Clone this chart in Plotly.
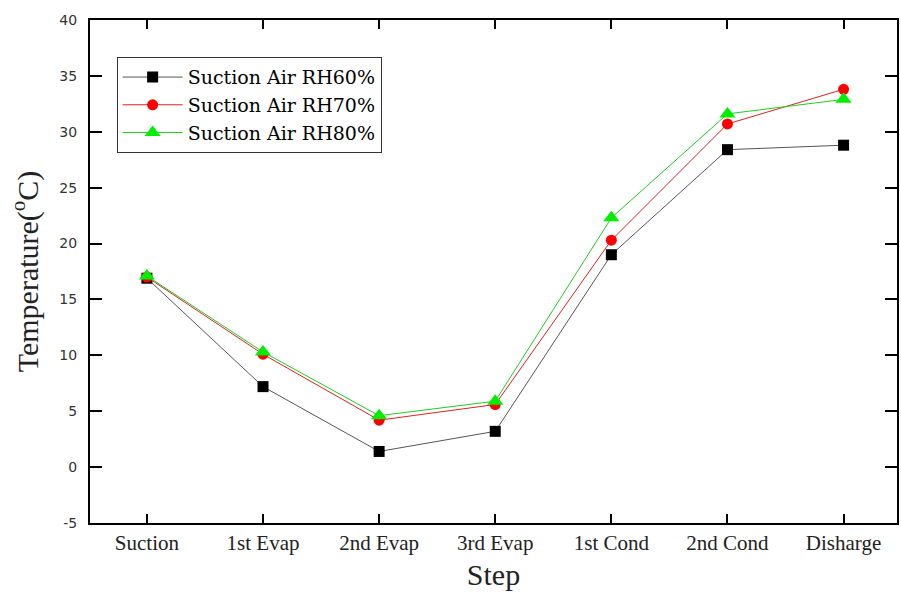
import plotly.graph_objects as go

# Process steps along the refrigeration cycle
steps = ["Suction", "1st Evap", "2nd Evap", "3rd Evap", "1st Cond", "2nd Cond", "Disharge"]

# Measured temperatures (°C) for each suction-air humidity
rh60 = [16.9, 7.2, 1.4, 3.2, 19.0, 28.4, 28.8]
rh70 = [17.0, 10.1, 4.2, 5.6, 20.3, 30.7, 33.8]
rh80 = [17.1, 10.3, 4.6, 5.9, 22.3, 31.6, 32.9]

y_ticks = [-5, 0, 5, 10, 15, 20, 25, 30, 35, 40]
y_tick_text = ["-5", "0", "5", "10", "15", "20", "25", "30", "35", "40"]

serif = "Liberation Serif, Times New Roman, serif"
wide_serif = "DejaVu Serif, serif"
sans = "DejaVu Sans, sans-serif"

x_idx = list(range(len(steps)))

fig = go.Figure()
series = [
    ("Suction Air RH60%", rh60, "black", "#555555", "square", 11),
    ("Suction Air RH70%", rh70, "#ff0000", "#dd2222", "circle", 11),
    ("Suction Air RH80%", rh80, "#00ee00", "#22cc22", "triangle-up", 14),
]
for name, vals, mcol, lcol, sym, size in series:
    fig.add_trace(go.Scatter(
        x=x_idx, y=vals, name=name, mode="lines+markers",
        line=dict(color=lcol, width=1),
        marker=dict(symbol=sym, size=size, color=mcol, line=dict(width=0)),
    ))

axis_common = dict(
    showline=True, linecolor="black", linewidth=2, mirror="allticks",
    ticks="inside", tickcolor="black", tickwidth=2,
    showgrid=False, zeroline=False,
)

fig.update_layout(
    width=901, height=595,
    margin=dict(l=90, r=2, t=20, b=72),
    plot_bgcolor="white", paper_bgcolor="white",
    showlegend=True,
    legend=dict(
        x=0.033, y=0.926, xanchor="left", yanchor="top",
        bgcolor="white", bordercolor="#333333", borderwidth=1,
        font=dict(family=wide_serif, size=19, color="black"),
        tracegroupgap=0, itemwidth=60,
    ),
    xaxis=dict(
        **axis_common, ticklen=9,
        tickmode="array", tickvals=x_idx, ticktext=steps,
        range=[-0.49, 6.46],
        tickfont=dict(family=serif, size=21, color="#222222"),
        title=dict(text="Step", font=dict(family=serif, size=30, color="#222222"), standoff=10),
    ),
    yaxis=dict(
        **axis_common, ticklen=12,
        tickmode="array", tickvals=y_ticks, ticktext=y_tick_text,
        range=[-5, 40], ticklabelstandoff=8,
        tickfont=dict(family=sans, size=14, color="#333333"),
        title=dict(text="Temperature(<sup>o</sup>C)", font=dict(family=serif, size=30, color="#222222"), standoff=12),
    ),
)

fig.write_html("out.html")
